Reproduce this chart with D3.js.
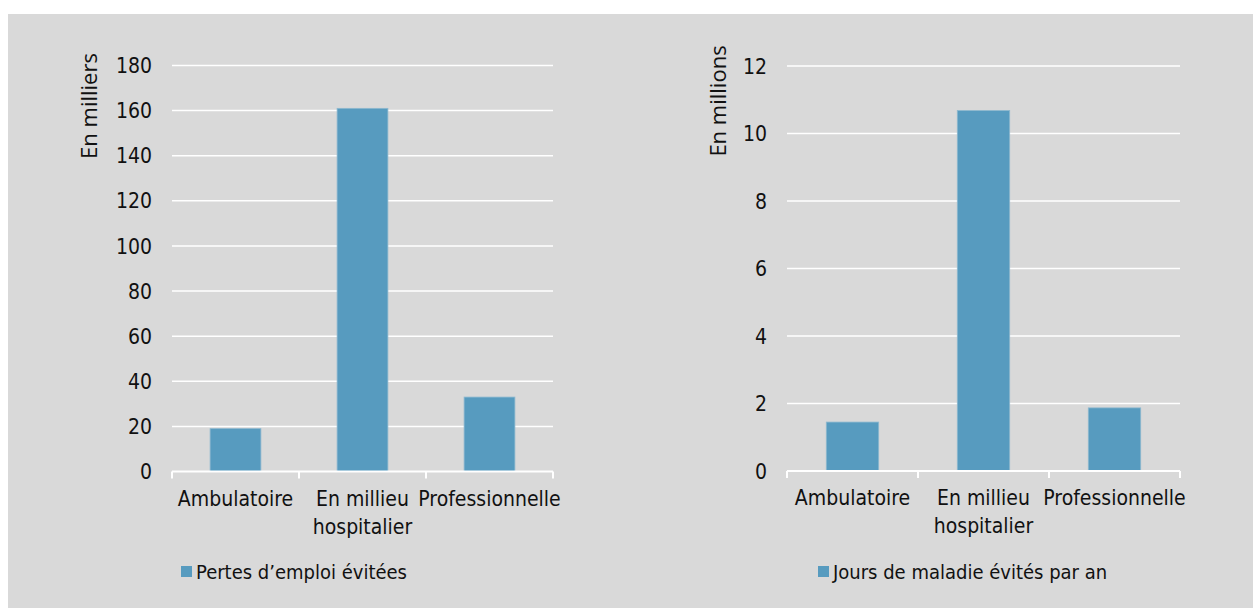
<!DOCTYPE html>
<html>
<head>
<meta charset="utf-8">
<script src="https://cdn.jsdelivr.net/npm/d3@7/dist/d3.min.js"></script>
<style>
  body { margin: 0; background: #ffffff; }
  svg { display: block; }
  .cond { font-family: "DejaVu Sans Condensed", "DejaVu Sans", sans-serif; fill: #111; }
  .ttl { font-family: "Open Sans", sans-serif; fill: #111; }
</style>
</head>
<body>
<svg id="chart" width="1253" height="608"></svg>
<script>
// Categories shared by both panels
const categories = ["Ambulatoire", "En millieu hospitalier", "Professionnelle"];
const categoryLines = [["Ambulatoire"], ["En millieu", "hospitalier"], ["Professionnelle"]];

// Left panel: job losses avoided (thousands)
const jobLossValues = [19, 161, 33];
const jobLossTicks = [0, 20, 40, 60, 80, 100, 120, 140, 160, 180];

// Right panel: sick days avoided per year (millions)
const sickDayValues = [1.45, 10.68, 1.87];
const sickDayTicks = [0, 2, 4, 6, 8, 10, 12];

const BAR = "#579bbf";
const BG = "#d9d9d9";

const svg = d3.select("#chart");
svg.append("rect").attr("x", 8).attr("y", 14).attr("width", 1245).attr("height", 594).attr("fill", BG);

function panel(opts) {
  const g = svg.append("g");
  const x = d3.scaleBand().domain(categories).range([opts.x0, opts.x1]).paddingInner(0.6).paddingOuter(0.3);
  const xb = d3.scaleBand().domain(categories).range([opts.x0, opts.x1]);
  const y = d3.scaleLinear().domain([0, opts.max]).range([opts.y0, opts.y1]);

  // gridlines
  g.selectAll("line.grid").data(opts.ticks.filter(t => t > 0)).join("line")
    .attr("x1", opts.x0).attr("x2", opts.x1)
    .attr("y1", d => y(d)).attr("y2", d => y(d))
    .attr("stroke", "#ffffff").attr("stroke-width", 1.5);

  // y tick labels
  g.selectAll("text.yt").data(opts.ticks).join("text")
    .attr("class", "cond")
    .attr("x", opts.x0 - 20).attr("y", d => y(d))
    .attr("dy", "0.36em")
    .attr("text-anchor", "end")
    .attr("font-size", 21)
    .text(d => d);

  // bars
  g.selectAll("rect.bar").data(opts.values).join("rect")
    .attr("x", (d, i) => x(categories[i]))
    .attr("width", x.bandwidth())
    .attr("y", d => y(d))
    .attr("height", d => y(0) - y(d))
    .attr("fill", BAR)
    .attr("stroke", "#8db8cf").attr("stroke-width", 0.8);

  // x axis line and boundary ticks
  g.append("line").attr("x1", opts.x0).attr("x2", opts.x1)
    .attr("y1", y(0)).attr("y2", y(0)).attr("stroke", "#fff").attr("stroke-width", 2);
  const bounds = categories.map(c => xb(c)).concat([opts.x1]);
  g.selectAll("line.xt").data(bounds).join("line")
    .attr("x1", d => d).attr("x2", d => d)
    .attr("y1", y(0)).attr("y2", y(0) + 7)
    .attr("stroke", "#fff").attr("stroke-width", 2);

  // category labels
  categoryLines.forEach((lines, i) => {
    const t = g.append("text").attr("class", "cond")
      .attr("x", xb(categories[i]) + xb.bandwidth() / 2)
      .attr("y", y(0) + 34)
      .attr("text-anchor", "middle").attr("font-size", 21);
    lines.forEach((l, j) => t.append("tspan")
      .attr("x", xb(categories[i]) + xb.bandwidth() / 2)
      .attr("dy", j === 0 ? 0 : 28).text(l));
  });

  // axis title
  g.append("text").attr("class", "ttl")
    .attr("transform", `translate(${opts.titleX},${opts.titleY}) rotate(-90)`)
    .attr("text-anchor", "middle").attr("dy", "0.35em")
    .attr("font-size", 22)
    .text(opts.title);

  // legend
  g.append("rect").attr("x", opts.legX).attr("y", 566).attr("width", 11).attr("height", 11).attr("fill", BAR);
  g.append("text").attr("class", "cond")
    .attr("x", opts.legX + 15).attr("y", 572).attr("dy", "0.36em")
    .attr("font-size", 20)
    .text(opts.legend);
}

panel({
  x0: 172, x1: 553, y0: 471.5, y1: 65.5, max: 180,
  values: jobLossValues, ticks: jobLossTicks,
  title: "En milliers", titleX: 89, titleY: 106,
  legX: 181, legend: "Pertes d’emploi évitées"
});

panel({
  x0: 787, x1: 1180, y0: 471, y1: 66, max: 12,
  values: sickDayValues, ticks: sickDayTicks,
  title: "En millions", titleX: 718, titleY: 101,
  legX: 818, legend: "Jours de maladie évités par an"
});
</script>
</body>
</html>
